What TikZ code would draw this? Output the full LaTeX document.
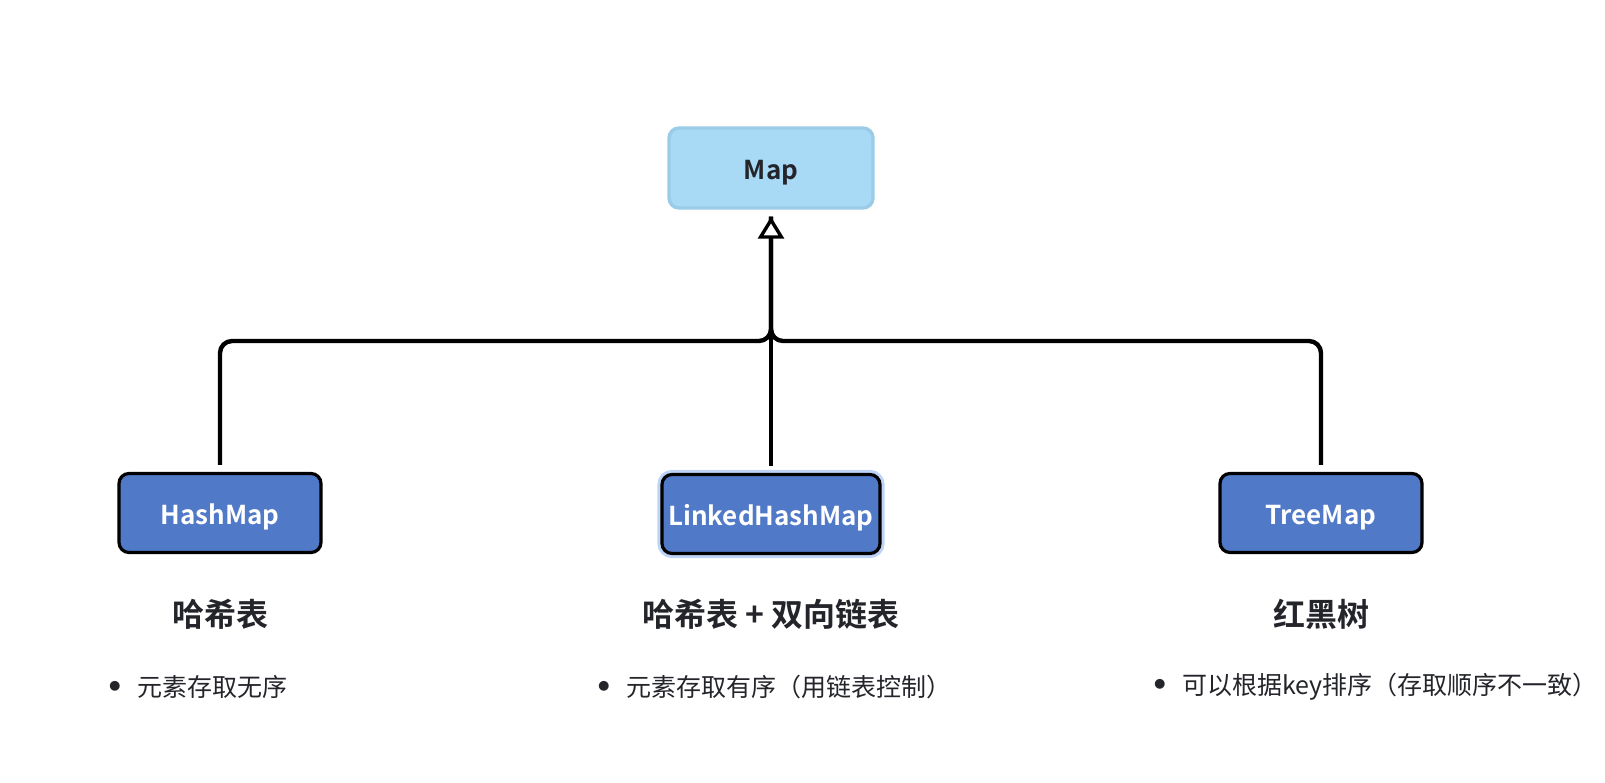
\documentclass[tikz,border=0pt]{standalone}
\usepackage{fontspec}
\setmainfont{Noto Sans CJK SC}[BoldFont={Noto Sans CJK SC Bold}]
\usepackage{tikz}
\usetikzlibrary{arrows.meta,positioning}
\definecolor{mapfill}{RGB}{168,218,246}
\definecolor{mapline}{RGB}{154,204,232}
\definecolor{implfill}{RGB}{80,121,200}
\definecolor{halo}{RGB}{190,212,246}
\definecolor{inkgray}{RGB}{36,37,43}
\newcommand{\dotmark}{\makebox[14pt][l]{\raisebox{3.2pt}{\fontsize{5.5}{5.5}\selectfont ●}}}

\begin{document}
\begin{tikzpicture}[x=0.5pt, y=-0.5pt,
    iface/.style={rectangle, rounded corners=5pt, draw=mapline, line width=1.7pt,
        fill=mapfill, minimum width=102pt, minimum height=40pt,
        text height=11.5pt, text depth=0pt,
        font=\bfseries\fontsize{13}{15}\selectfont, text=inkgray, inner sep=0pt},
    impl/.style={rectangle, rounded corners=5pt, draw=black, line width=1.6pt,
        fill=implfill, minimum width=101pt, minimum height=39.5pt,
        text height=11.5pt, text depth=0pt,
        font=\bfseries\fontsize{13}{15}\selectfont, text=white, inner sep=0pt},
    title/.style={font=\bfseries\fontsize{16}{18}\selectfont, text=inkgray},
    item/.style={anchor=west, font=\fontsize{12.5}{15}\selectfont, text=inkgray, inner sep=0pt},
    conn/.style={line width=2.2pt, rounded corners=6pt, shorten <=3.5pt, shorten >=3.5pt},
    arr/.style={conn, -{Triangle[open, length=11pt, width=13pt, line width=1.7pt, fill=white]}}
]
    \useasboundingbox (0,0) rectangle (1605,782);

    \node[iface] (map) at (771,168) {Map};

    \node[impl] (hash) at (220,513) {HashMap};
    \node[impl, minimum width=109pt, preaction={draw=halo, line width=4.6pt}] (linked) at (771,514) {LinkedHashMap};
    \node[impl] (tree) at (1321,513) {TreeMap};

    \coordinate (bus) at (771,341);

    \draw[conn] (hash.north) -- (hash.north |- bus) -- (bus) -- (map.south);
    \draw[conn] (tree.north) -- (tree.north |- bus) -- (bus) -- (map.south);
    \draw[arr] (linked.north) -- (map.south);

    \node[title] (hashT) at (220,614) {哈希表};
    \node[title] (linkedT) at (771,614) {哈希表 + 双向链表};
    \node[title] (treeT) at (1321,614) {红黑树};

    \node[item] (hashI) at (109,687) {\dotmark 元素存取无序};
    \node[item] (linkedI) at (598,687) {\dotmark 元素存取有序（用链表控制）};
    \node[item] (treeI) at (1154,687) {\dotmark 可以根据key排序（存取顺序不一致）};
\end{tikzpicture}
\end{document}
